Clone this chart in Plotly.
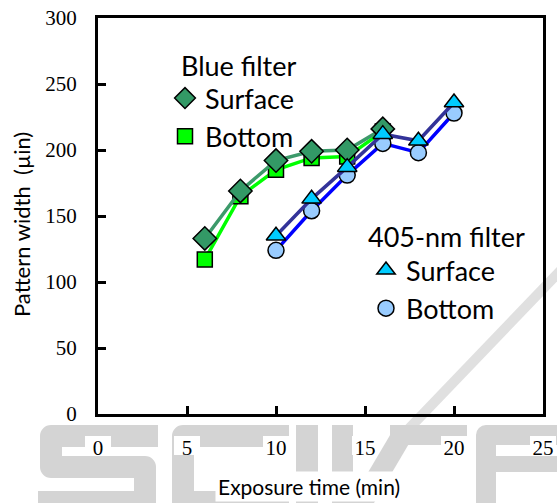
import base64
import plotly.graph_objects as go

# ---------------- data ----------------
exposure_blue = [6, 8, 10, 12, 14, 16]
blue_surface = [133, 169, 192, 199, 200, 216]
blue_bottom = [117, 165, 185, 194, 195, 214]

exposure_405 = [10, 12, 14, 16, 18, 20]
nm405_surface = [135, 163, 187, 212, 207, 236]
nm405_bottom = [124, 154, 181, 205, 198, 228]

x_ticks = [0, 5, 10, 15, 20, 25]
y_ticks = [0, 50, 100, 150, 200, 250, 300]
x_range = [0, 25]
y_range = [0, 300]

group_titles = ["Blue filter", "405-nm filter"]

# ---------------- layout geometry ----------------
W, H = 557, 503
ML, MR, MT, MB = 98, 14, 18, 89
PW, PH = W - ML - MR, H - MT - MB


def px_x(p):
    return (p - ML) / PW


def px_y(p):
    return (MT + PH - p) / PH


SANS = "Lato"
SERIF = "Liberation Serif"

fig = go.Figure()

series = [
    # (x, y, name, legend, symbol, fill, line colour, size)
    (exposure_blue, blue_bottom, "Bottom", "legend", "square", "#00FF00", "#00FF00", 15),
    (exposure_blue, blue_surface, "Surface", "legend", "diamond", "#339966", "#3C9A6A", 18),
    (exposure_405, nm405_bottom, "Bottom", "legend2", "circle", "#99CCFF", "#0000FF", 16),
    (exposure_405, nm405_surface, "Surface", "legend2", "triangle-up", "#00CCFF", "#333399", 17),
]

for xs, ys, name, lg, sym, fill, lc, sz in series:
    fig.add_trace(go.Scatter(
        x=xs, y=ys, mode="lines+markers", showlegend=False,
        line=dict(color=lc, width=3.5),
        marker=dict(symbol=sym, size=sz, color=fill, line=dict(color="black", width=1.5)),
        hoverinfo="x+y",
    ))

# legend-only entries (markers only, like the original key)
legend_order = [1, 0, 3, 2]
for i in legend_order:
    xs, ys, name, lg, sym, fill, lc, sz = series[i]
    fig.add_trace(go.Scatter(
        x=[None], y=[None], mode="markers", name=name, legend=lg,
        marker=dict(symbol=sym, size=sz, color=fill, line=dict(color="black", width=1.5)),
    ))

# ---------------- watermark (background decoration) ----------------
g = "#d4d4d4"
svg = f'''<svg xmlns="http://www.w3.org/2000/svg" width="{W}" height="{H}" viewBox="0 0 {W} {H}">
<line x1="585" y1="245" x2="398" y2="440" stroke="#e0e0e0" stroke-width="10"/>
<g fill="none" stroke="{g}" stroke-linejoin="round">
<path d="M158 436 H51 V467 H145 V502 H38" stroke-width="22"/>
<path d="M289 436 H183 V502 H289" stroke-width="22"/>
<path d="M557 435 H486 V520" stroke-width="20"/>
</g>
<g fill="{g}">
<rect x="296" y="425" width="22" height="90"/>
<rect x="332" y="425" width="21" height="90"/>
<polygon points="350,503 374,503 420,425 396,425"/>
<rect x="390" y="425" width="77" height="20"/>
<rect x="486" y="456" width="80" height="16"/>
</g>
</svg>'''
src = "data:image/svg+xml;base64," + base64.b64encode(svg.encode()).decode()
fig.add_layout_image(dict(
    source=src, xref="paper", yref="paper",
    x=px_x(0), y=px_y(0), sizex=W / PW, sizey=H / PH,
    xanchor="left", yanchor="top", sizing="stretch", layer="below", opacity=1,
))

# white boxes behind x tick labels (text boxes of the original)
for t in x_ticks:
    xc = (t - x_range[0]) / (x_range[1] - x_range[0])
    fig.add_shape(type="rect", xref="paper", yref="paper",
                  x0=xc - 13 / PW, x1=xc + 13 / PW,
                  y0=px_y(455), y1=px_y(436),
                  fillcolor="white", line=dict(width=0), layer="below")

axis_common = dict(
    showgrid=False, zeroline=False, showline=True, mirror=True, automargin=False,
    linecolor="black", linewidth=3,
    ticks="inside", ticklen=8, tickwidth=2.5, tickcolor="black",
    tickfont=dict(family=SERIF, size=21, color="black"),
)

fig.update_xaxes(range=x_range, tickvals=x_ticks, ticklabelstandoff=13, **axis_common)
fig.update_yaxes(range=y_range, tickvals=y_ticks, ticklabelstandoff=14, **axis_common)

fig.add_annotation(
    text="Exposure time (min)", xref="paper", yref="paper",
    x=px_x(309), y=px_y(487), xanchor="center", yanchor="middle",
    showarrow=False, bgcolor="white", borderpad=2,
    font=dict(family=SANS, size=21, color="black"),
)
fig.add_annotation(
    text="Pattern width  (µin)", xref="paper", yref="paper",
    x=px_x(21), y=px_y(225), xanchor="center", yanchor="middle", textangle=-90,
    showarrow=False, font=dict(family=SANS, size=22, color="black"),
)

leg_font = dict(family=SANS, size=27, color="black")

# legend group titles
for txt, (lx, ly) in zip(group_titles, [(179, 65), (366, 236)]):
    fig.add_annotation(text=txt, xref="paper", yref="paper", x=px_x(lx), y=px_y(ly),
                       xanchor="left", yanchor="middle", showarrow=False, font=leg_font)

fig.update_layout(
    width=W, height=H,
    margin=dict(l=ML, r=MR, t=MT, b=MB, pad=0, autoexpand=False),
    paper_bgcolor="white", plot_bgcolor="rgba(0,0,0,0)",
    showlegend=True,
    legend=dict(x=px_x(165), y=px_y(74), xanchor="left", yanchor="top",
                bgcolor="rgba(0,0,0,0)", font=leg_font,
                traceorder="normal", itemclick=False, itemdoubleclick=False),
    legend2=dict(x=px_x(366), y=px_y(246), xanchor="left", yanchor="top",
                 bgcolor="rgba(0,0,0,0)", font=leg_font,
                 traceorder="normal", itemclick=False, itemdoubleclick=False),
)

fig.write_html("out.html", config={"displayModeBar": False},
               post_script="document.body.style.margin='0';document.body.style.padding='0';")
